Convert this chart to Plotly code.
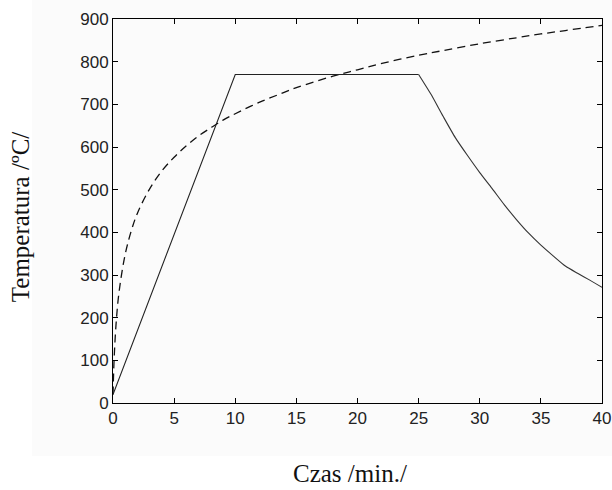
import plotly.graph_objects as go

# Solid curve (parametric fire scenario)
t_fire = [0, 10, 25, 26, 27, 28, 29, 30, 31, 32, 33, 34, 35, 36, 37, 38, 39, 40]
T_fire = [20, 770, 770, 724, 672, 622, 580, 540, 503, 465, 430, 398, 370, 345, 321, 304, 288, 271]

# Dashed curve (standard fire curve)
t_std = [0, 0.05, 0.1, 0.25, 0.5, 1, 1.5, 2, 3, 4, 5, 6, 7, 8, 9, 10, 12, 14, 15, 18, 20, 22, 25, 27, 30, 33, 35, 37, 40]
T_std = [20, 70, 108, 185, 261, 349, 404, 445, 502, 544, 576, 603, 626, 645, 663, 678, 705, 728, 739, 766, 781, 796, 815, 826, 842, 856, 865, 873, 885]

x_ticks = [0, 5, 10, 15, 20, 25, 30, 35, 40]
y_ticks = [0, 100, 200, 300, 400, 500, 600, 700, 800, 900]

fig = go.Figure()
fig.add_trace(go.Scatter(x=t_std, y=T_std, mode="lines",
                         line=dict(color="#111111", width=1.3, dash="8px,5px", shape="spline")))
# heating + plateau (straight segments)
fig.add_trace(go.Scatter(x=t_fire[:3], y=T_fire[:3], mode="lines",
                         line=dict(color="#222222", width=1.1)))
# cooling branch (smooth)
fig.add_trace(go.Scatter(x=t_fire[2:], y=T_fire[2:], mode="lines",
                         line=dict(color="#333333", width=1.1, shape="spline", smoothing=0.6)))

axis_common = dict(showline=True, linecolor="black", linewidth=1, mirror="ticks",
                   ticks="inside", ticklen=5, tickcolor="black", tickwidth=1,
                   showgrid=False, zeroline=False, automargin=False,
                   tickfont=dict(family="Liberation Sans, Arial, sans-serif", size=17, color="#222222"))

fig.update_xaxes(range=[0, 40], tickvals=x_ticks, **axis_common)
fig.update_yaxes(range=[0, 900], tickvals=y_ticks, **axis_common)

fig.update_layout(
    width=612, height=490,
    margin=dict(l=113, r=10, t=19, b=87),
    paper_bgcolor="white", plot_bgcolor="white",
    showlegend=False,
    shapes=[dict(type="rect", xref="paper", yref="paper", x0=-0.166, x1=1.03, y0=-0.138, y1=1.06,
                 fillcolor="#fbfbfb", line=dict(width=0), layer="below")],
    annotations=[
        dict(text="Czas /min./", xref="paper", yref="paper", x=0.485, y=-0.183,
             xanchor="center", yanchor="middle", showarrow=False,
             font=dict(family="Liberation Serif, Times New Roman, serif", size=25, color="#111111")),
        dict(text="Temperatura /ºC/", xref="paper", yref="paper", x=-0.19, y=0.484,
             xanchor="center", yanchor="middle", showarrow=False, textangle=-90,
             font=dict(family="Liberation Serif, Times New Roman, serif", size=25, color="#111111")),
    ],
)

fig.write_html("out.html", config={"displayModeBar": False},
               post_script="document.body.style.margin='0';")
